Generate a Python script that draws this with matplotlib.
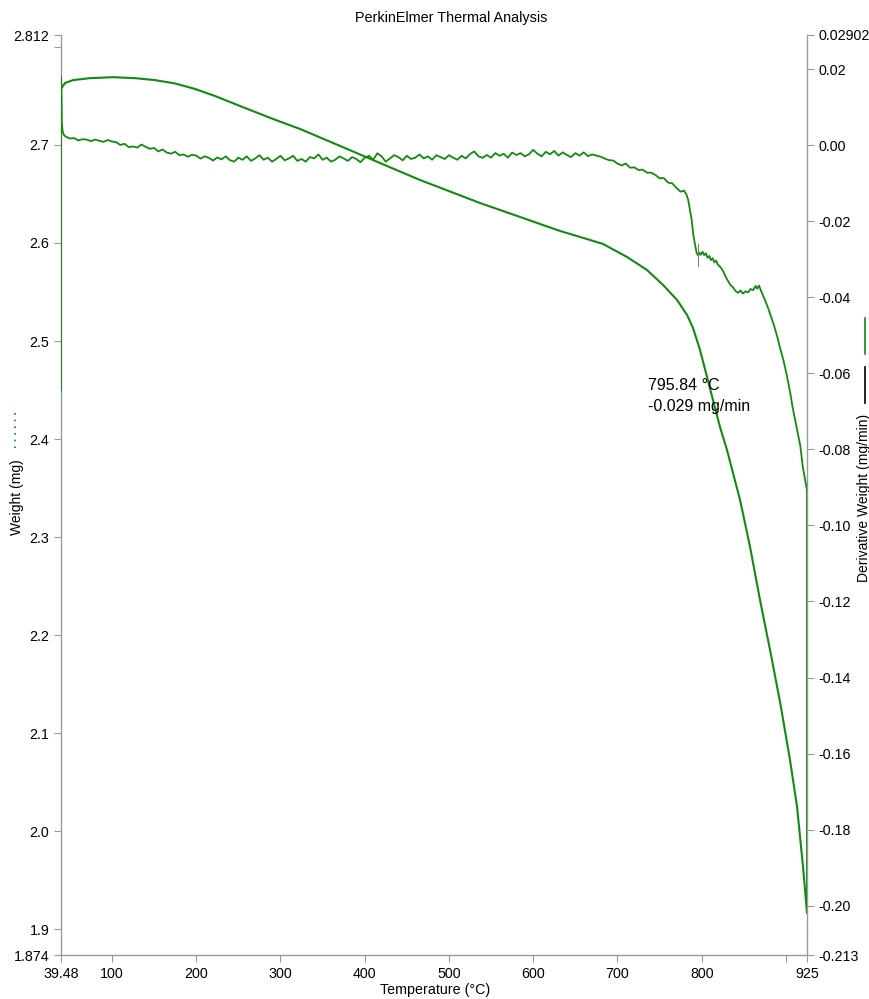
"""PerkinElmer TGA trace: weight (left) and derivative weight (right) vs temperature."""
import matplotlib

matplotlib.use("Agg")
import matplotlib.pyplot as plt
from matplotlib.lines import Line2D

plt.rcParams["font.family"] = ["Liberation Sans", "DejaVu Sans"]

GREEN = "#128a12"
AXIS_GREY = "#9a9a9a"
FS = 10.3

# weight curve (mg)
weight_temp = [39.5, 44.2, 53.7, 73.9, 101.2, 127.3, 151.1, 174.8, 198.5, 222.3,
               252.0, 291.1, 323.2, 370.7, 418.1, 465.6, 536.8, 584.3, 631.8, 655.6,
               682.8, 711.3, 735.1, 754.1, 770.7, 782.6, 789.7, 798.0, 806.3, 813.4,
               821.7, 830.0, 845.5, 857.4, 869.2, 881.1, 893.0, 904.8, 913.2, 920.3,
               925.0]
weight_mg = [2.757, 2.763, 2.766, 2.768, 2.769, 2.768, 2.766, 2.7626, 2.757, 2.7498,
             2.7396, 2.7264, 2.7162, 2.6989, 2.6815, 2.6642, 2.6407, 2.6265, 2.6122, 2.6061,
             2.5990, 2.5857, 2.5724, 2.5572, 2.5419, 2.5266, 2.5133, 2.4909, 2.4634, 2.4399,
             2.4124, 2.3890, 2.3380, 2.2901, 2.2361, 2.1851, 2.1321, 2.0730, 2.0250, 1.9639,
             1.9170]

# derivative weight (mg/min)
deriv_temp = [39.48, 39.48, 40.0, 40.5, 41.5, 43.0,
              45, 50, 55, 60, 65, 70, 75, 80, 85, 90,
              95, 100, 105, 110, 115, 120, 125, 130, 135, 140,
              145, 150, 155, 160, 165, 170, 175, 180, 185, 190,
              195, 200, 205, 210, 215, 220, 225, 230, 235, 240,
              245, 250, 255, 260, 265, 270, 275, 280, 285, 290,
              295, 300, 305, 310, 315, 320, 325, 330, 335, 340,
              345, 350, 355, 360, 365, 370, 375, 380, 385, 390,
              395, 400, 405, 410, 415, 420, 425, 430, 435, 440,
              445, 450, 455, 460, 465, 470, 475, 480, 485, 490,
              495, 500, 505, 510, 515, 520, 525, 530, 535, 540,
              545, 550, 555, 560, 565, 570, 575, 580, 585, 590,
              595, 600, 605, 610, 615, 620, 625, 630, 635, 640,
              645, 650, 655, 660, 665, 670, 675, 680, 685, 690,
              695, 700, 705, 710, 715, 720, 725, 730, 735, 740,
              745, 750, 755, 760, 765, 770, 775,
              779, 782, 784, 786, 788, 790, 792, 794, 795.84,
              797, 799, 801, 803, 805, 807, 809, 811, 813, 815, 817, 819,
              822, 825, 828, 831, 834, 837, 840, 843, 846, 849, 852, 855,
              858, 861, 864, 866, 868, 870, 873, 876, 879, 882, 886, 890,
              893, 897, 901, 905, 908, 912, 917, 920, 923, 925, 925]
deriv_val = [-0.0644, 0.0180, 0.0145, 0.0059, 0.0035, 0.0027,
             0.0023, 0.0018, 0.0019, 0.0013, 0.0016, 0.0015, 0.0011, 0.0015, 0.0012, 0.0009,
             0.0014, 0.0010, 0.0008, 0.0001, 0.0004, -0.0005, -0.0003, -0.0006, 0.0002, -0.0004,
             -0.0009, -0.0007, -0.0016, -0.0011, -0.0019, -0.0022, -0.0017, -0.0026, -0.0024, -0.0030,
             -0.0025, -0.0027, -0.0035, -0.0029, -0.0033, -0.0040, -0.0032, -0.0037, -0.0029, -0.0039,
             -0.0043, -0.00325, -0.0038, -0.0029, -0.0041, -0.00345, -0.0026, -0.0038, -0.00325, -0.0043,
             -0.0036, -0.00275, -0.00395, -0.00345, -0.00275, -0.0041, -0.0036, -0.0043, -0.0031, -0.00345,
             -0.0024, -0.0038, -0.00325, -0.0043, -0.0038, -0.0029, -0.00345, -0.0041, -0.0031, -0.0036,
             -0.00445, -0.00325, -0.00275, -0.0038, -0.0021, -0.0029, -0.0043, -0.00345, -0.0026, -0.0031,
             -0.00395, -0.00275, -0.0036, -0.00325, -0.0024, -0.00345, -0.0029, -0.0038, -0.0026, -0.0031,
             -0.0036, -0.0026, -0.00325, -0.0038, -0.00275, -0.00345, -0.0023, -0.0016, -0.0029, -0.0033,
             -0.00255, -0.00325, -0.00205, -0.00275, -0.00225, -0.00325, -0.0019, -0.00255, -0.00205, -0.0029,
             -0.00235, -0.0012, -0.0022, -0.0029, -0.0017, -0.00235, -0.0015, -0.0027, -0.00185, -0.00255,
             -0.0031, -0.00205, -0.0027, -0.00185, -0.00285, -0.0024, -0.0027, -0.0030, -0.0035, -0.0039,
             -0.0040, -0.0048, -0.0053, -0.0048, -0.0059, -0.0058, -0.0065, -0.0064, -0.0072, -0.0072,
             -0.0078, -0.0087, -0.0086, -0.0098, -0.0100, -0.0112, -0.0122,
             -0.0119, -0.0130, -0.0144, -0.0170, -0.0195, -0.0235, -0.0260, -0.0283, -0.0290,
             -0.0282, -0.0288, -0.0280, -0.0289, -0.0284, -0.0296, -0.0291, -0.0302, -0.0297, -0.0308, -0.0303, -0.0313,
             -0.0320, -0.0329, -0.0344, -0.0356, -0.0367, -0.0373, -0.0383, -0.0388, -0.0382, -0.0390, -0.0384, -0.0387,
             -0.0378, -0.0381, -0.0370, -0.0377, -0.0369, -0.0380, -0.0396, -0.0412, -0.0429, -0.0449, -0.0475, -0.0506,
             -0.0533, -0.0565, -0.0605, -0.0650, -0.0690, -0.0735, -0.0790, -0.0846, -0.0883, -0.0907, -0.2005]

# picked point on the derivative curve
mark_temp = 795.84
mark_val = -0.029

x_ticks = [39.48, 100, 200, 300, 400, 500, 600, 700, 800, 900, 925]
x_labels = ["39.48", "100", "200", "300", "400", "500", "600", "700", "800", "", "925"]
w_ticks = [1.874, 1.9, 2.0, 2.1, 2.2, 2.3, 2.4, 2.5, 2.6, 2.7, 2.8, 2.812]
w_labels = ["1.874", "1.9", "2.0", "2.1", "2.2", "2.3", "2.4", "2.5", "2.6", "2.7", "", "2.812"]
d_ticks = [-0.213, -0.20, -0.18, -0.16, -0.14, -0.12, -0.10, -0.08, -0.06, -0.04,
           -0.02, 0.00, 0.02, 0.02902]
d_labels = ["-0.213", "-0.20", "-0.18", "-0.16", "-0.14", "-0.12", "-0.10", "-0.08",
            "-0.06", "-0.04", "-0.02", "0.00", "0.02", "0.02902"]


def style_axis(a):
    for side in ("top", "left", "right", "bottom"):
        a.spines[side].set_visible(False)
    a.tick_params(colors=AXIS_GREY, labelcolor="black", labelsize=FS, length=5, width=0.8)


fig, ax = plt.subplots(figsize=(8.7, 9.99), dpi=100)
fig.subplots_adjust(left=61 / 870, right=807 / 870, bottom=44 / 999, top=1 - 35 / 999)
ax2 = ax.twinx()

ax.plot(weight_temp, weight_mg, color=GREEN, lw=1.5, zorder=3)
ax2.plot(deriv_temp, deriv_val, color=GREEN, lw=1.3, zorder=3)
ax2.plot([mark_temp, mark_temp], [mark_val + 0.0030, mark_val - 0.0028],
         color="#808080", lw=0.8, zorder=4)
ax2.text(736, -0.0613, f"{mark_temp:.2f} °C\n{mark_val:.3f} mg/min",
         fontsize=11.5, va="top", ha="left", linespacing=1.45)

ax.set_xlim(39.48, 925)
ax.set_ylim(1.874, 2.812)
ax2.set_ylim(-0.213, 0.02902)

ax.set_xticks(x_ticks)
ax.set_xticklabels(x_labels)
ax.set_yticks(w_ticks)
ax.set_yticklabels(w_labels)
ax2.set_yticks(d_ticks)
ax2.set_yticklabels(d_labels)

style_axis(ax)
style_axis(ax2)
ax.spines["left"].set_visible(True)
ax.spines["bottom"].set_visible(True)
ax2.spines["right"].set_visible(True)
for s in (ax.spines["left"], ax.spines["bottom"], ax2.spines["right"]):
    s.set_color(AXIS_GREY)
    s.set_linewidth(1.0)

# titles and axis names placed like the instrument export
fig.text(451 / 870, 1 - 18 / 999, "PerkinElmer Thermal Analysis", ha="center", va="center", fontsize=10.4)
fig.text(435 / 870, 1 - 990 / 999, "Temperature (°C)", ha="center", va="center", fontsize=FS)
fig.text(17 / 870, 1 - 497 / 999, "Weight (mg)", rotation=90, ha="center", va="center", fontsize=10)
fig.text(864 / 870, 1 - 498 / 999, "Derivative Weight (mg/min)", rotation=90,
         ha="center", va="center", fontsize=10)

# small series keys next to the axis names
fig.add_artist(Line2D([15 / 870, 15 / 870], [1 - 413 / 999, 1 - 450 / 999],
                      color=GREEN, lw=1.2, linestyle=(0, (1, 3))))
fig.add_artist(Line2D([865 / 870, 865 / 870], [1 - 318 / 999, 1 - 354 / 999], color=GREEN, lw=1.2))
fig.add_artist(Line2D([865 / 870, 865 / 870], [1 - 367 / 999, 1 - 403 / 999], color="black", lw=1.2))

fig.savefig("out.png", dpi=100)
